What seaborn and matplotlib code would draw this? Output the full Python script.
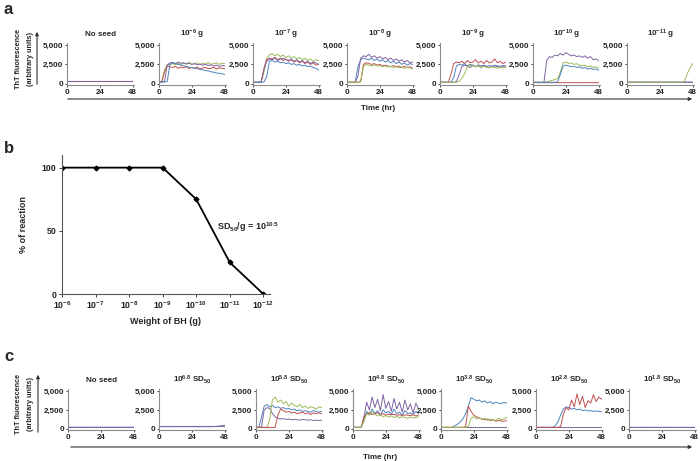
import matplotlib
matplotlib.use("Agg")
import matplotlib.pyplot as plt
from matplotlib.patches import FancyArrowPatch
import pandas as pd
import seaborn as sns

W, H = 700, 461

TIME = list(range(0, 49, 2))
COLORS = {"blue": "#4F81BD", "red": "#C0504D", "green": "#9BBB59", "purple": "#8064A2"}

# ---- panel a: ThT kinetics, BH dilutions ---------------------------------- #
A_TITLES = ["No seed", r"10$^{-6}$ g", r"10$^{-7}$ g", r"10$^{-8}$ g",
            r"10$^{-9}$ g", r"10$^{-10}$ g", r"10$^{-11}$ g"]

a_noseed = {
    "blue": [300, 302, 298, 300, 301, 299, 300, 302, 300, 298, 300, 301, 300, 299, 302, 300, 300, 298, 301, 300, 299, 300, 302, 300, 300],
    "red": [290, 288, 291, 290, 289, 290, 292, 290, 288, 290, 291, 290, 289, 290, 290, 291, 288, 290, 290, 292, 290, 289, 290, 291, 290],
    "purple": [310, 311, 309, 310, 312, 310, 309, 310, 311, 310, 308, 310, 311, 310, 309, 312, 310, 310, 309, 311, 310, 310, 312, 309, 310],
}
a_1e6 = {
    "green": [250, 250, 1800, 2450, 2500, 2600, 2450, 2700, 2500, 2650, 2550, 2800, 2500, 2600, 2700, 2450, 2650, 2550, 2750, 2500, 2600, 2700, 2500, 2650, 2600],
    "red": [250, 250, 1500, 2300, 2200, 2100, 2250, 2000, 2150, 2050, 2200, 1950, 2100, 2000, 2150, 1900, 2050, 2100, 1950, 2000, 2150, 1900, 2050, 2000, 1950],
    "purple": [250, 250, 250, 2400, 2700, 2750, 2600, 2800, 2650, 2700, 2550, 2650, 2500, 2600, 2450, 2550, 2400, 2500, 2350, 2450, 2300, 2400, 2250, 2350, 2300],
    "blue": [250, 250, 250, 300, 2500, 2700, 2600, 2500, 2400, 2300, 2250, 2150, 2100, 2000, 1950, 1850, 1800, 1700, 1650, 1550, 1500, 1400, 1350, 1300, 1200],
}
a_1e7 = {
    "green": [200, 200, 200, 250, 1500, 3300, 3700, 3900, 3600, 3800, 3500, 3700, 3400, 3600, 3300, 3500, 3200, 3400, 3100, 3300, 3000, 3200, 2900, 3100, 3000],
    "red": [200, 200, 200, 250, 2000, 3100, 3300, 3200, 3400, 3100, 3300, 3000, 3200, 2900, 3100, 2800, 3000, 2700, 2900, 2600, 2800, 2500, 2700, 2400, 2500],
    "purple": [200, 200, 200, 250, 1800, 2900, 3200, 3100, 3300, 3000, 3200, 3300, 3100, 3000, 3200, 2900, 3100, 2800, 3000, 2700, 2900, 2600, 2800, 2700, 2500],
    "blue": [200, 200, 200, 200, 250, 900, 2900, 3000, 2800, 2900, 2700, 2800, 2600, 2700, 2500, 2600, 2400, 2500, 2300, 2400, 2200, 2300, 2100, 2000, 1800],
}
a_1e8 = {
    "blue": [200, 200, 200, 200, 2200, 3100, 3300, 3200, 3100, 3300, 3000, 3200, 2900, 3100, 2800, 3000, 2700, 2900, 2600, 2800, 2500, 2700, 2400, 2600, 2500],
    "purple": [200, 200, 200, 200, 1000, 3300, 3600, 3500, 3800, 3400, 3600, 3300, 3500, 3200, 3400, 3100, 3300, 3000, 3200, 2900, 3100, 2800, 3000, 2700, 2800],
    "red": [200, 200, 200, 200, 200, 300, 2500, 2700, 2600, 2500, 2600, 2400, 2500, 2300, 2400, 2300, 2200, 2350, 2200, 2300, 2100, 2250, 2100, 2200, 2000],
    "green": [200, 200, 200, 200, 200, 250, 2200, 2500, 2400, 2300, 2450, 2300, 2350, 2200, 2300, 2150, 2250, 2100, 2200, 2050, 2150, 2000, 2100, 2050, 1900],
}
a_1e9 = {
    "red": [200, 200, 200, 200, 1200, 2600, 2800, 2700, 2900, 2600, 3000, 2700, 2800, 3100, 2700, 2900, 2600, 3000, 2700, 2800, 3200, 2700, 2900, 2600, 2800],
    "blue": [200, 200, 200, 200, 200, 800, 2300, 2500, 2400, 2600, 2300, 2500, 2400, 2200, 2450, 2300, 2400, 2250, 2350, 2200, 2400, 2300, 2250, 2350, 2300],
    "purple": [200, 200, 200, 200, 200, 200, 300, 1200, 2200, 2400, 2300, 2100, 2400, 2200, 2300, 2100, 2350, 2200, 2100, 2300, 2150, 2250, 2100, 2200, 2150],
    "green": [200, 200, 200, 200, 200, 200, 200, 300, 700, 1300, 2200, 2400, 2300, 2200, 2350, 2100, 2250, 2150, 2050, 2200, 2100, 2000, 2150, 2050, 2100],
}
a_1e10 = {
    "red": [150, 150, 152, 150, 149, 150, 151, 150, 150, 152, 150, 149, 150, 150, 151, 150, 150, 149, 150, 152, 150, 150, 151, 150, 150],
    "purple": [200, 200, 200, 200, 200, 3000, 3500, 3400, 3700, 3600, 3900, 3700, 4000, 3800, 3600, 3700, 3500, 3600, 3400, 3600, 3300, 3500, 3100, 3200, 3000],
    "green": [200, 200, 200, 200, 200, 250, 350, 450, 550, 700, 1500, 2700, 2800, 2600, 2700, 2500, 2600, 2400, 2300, 2400, 2200, 2300, 2100, 2200, 2000],
    "blue": [200, 200, 200, 200, 200, 200, 200, 200, 200, 250, 1200, 2300, 2400, 2300, 2200, 2250, 2100, 2200, 2000, 2100, 1900, 2000, 1850, 1900, 1750],
}
a_1e11 = {
    "blue": [200, 201, 199, 200, 200, 202, 200, 199, 200, 201, 200, 200, 199, 200, 202, 200, 200, 201, 199, 200, 200, 201, 200, 199, 200],
    "purple": [220, 221, 220, 219, 220, 220, 222, 220, 219, 220, 221, 220, 220, 219, 220, 221, 220, 220, 222, 220, 220, 219, 220, 221, 220],
    "green": [210, 210, 211, 210, 209, 210, 210, 211, 210, 210, 209, 210, 211, 210, 210, 209, 210, 210, 211, 210, 210, 300, 1300, 2000, 2600],
}
A_PANELS = [a_noseed, a_1e6, a_1e7, a_1e8, a_1e9, a_1e10, a_1e11]

# ---- panel b: endpoint titration ----------------------------------------- #
B_LABELS = [r"10$^{-6}$", r"10$^{-7}$", r"10$^{-8}$", r"10$^{-9}$",
            r"10$^{-10}$", r"10$^{-11}$", r"10$^{-12}$"]
B_PCT = [100, 100, 100, 100, 75, 25, 0]

# ---- panel c: ThT kinetics, SD50 dilutions ------------------------------- #
C_TITLES = ["No seed", r"10$^{6.8}$ SD$_{50}$", r"10$^{5.8}$ SD$_{50}$",
            r"10$^{4.8}$ SD$_{50}$", r"10$^{3.8}$ SD$_{50}$",
            r"10$^{2.8}$ SD$_{50}$", r"10$^{1.8}$ SD$_{50}$"]

c_noseed = {
    "blue": [220, 221, 220, 219, 220, 220, 222, 220, 219, 220, 221, 220, 220, 219, 220, 221, 220, 220, 222, 220, 220, 219, 220, 221, 220],
    "purple": [180, 181, 180, 179, 180, 180, 181, 180, 179, 180, 180, 181, 180, 180, 179, 180, 181, 180, 180, 179, 180, 180, 181, 180, 180],
}
c_68 = {
    "green": [300, 301, 300, 299, 300, 300, 301, 300, 299, 300, 302, 300, 300, 299, 300, 301, 300, 300, 299, 300, 301, 300, 300, 302, 300],
    "blue": [320, 321, 320, 319, 320, 320, 322, 320, 319, 320, 321, 320, 320, 319, 320, 321, 320, 320, 322, 320, 320, 319, 320, 321, 320],
    "purple": [290, 290, 291, 290, 289, 290, 290, 291, 290, 290, 289, 290, 291, 290, 290, 289, 290, 290, 291, 290, 300, 320, 360, 420, 470],
}
c_58 = {
    "blue": [200, 200, 1500, 3000, 3200, 2900, 3100, 2800, 2900, 2700, 2800, 2600, 2700, 2500, 2600, 2400, 2500, 2300, 2400, 2300, 2200, 2400, 2300, 2200, 2300],
    "purple": [200, 200, 200, 2500, 2800, 2700, 2000, 1600, 1400, 1300, 1350, 1250, 1300, 1200, 1250, 1200, 1150, 1250, 1200, 1150, 1200, 1100, 1150, 1100, 1150],
    "green": [200, 200, 200, 200, 200, 1200, 3800, 4200, 3500, 3800, 3300, 3600, 3000, 3400, 3100, 2900, 3200, 2800, 3000, 2700, 2900, 2800, 2600, 2900, 2800],
    "red": [200, 200, 200, 200, 200, 200, 200, 200, 1800, 2600, 2400, 2200, 2300, 2100, 2200, 2000, 2100, 2200, 2000, 2100, 1900, 2100, 2000, 2100, 2000],
}
c_48 = {
    "purple": [200, 200, 200, 200, 1500, 3500, 2500, 4200, 2800, 3900, 2400, 4500, 2700, 3600, 2300, 4000, 2600, 3500, 2200, 3800, 2500, 3300, 2100, 3400, 2600],
    "blue": [200, 200, 200, 200, 1200, 2300, 1900, 2600, 2000, 2400, 1800, 2500, 2100, 2300, 1900, 2600, 2000, 2200, 1800, 2400, 2000, 2100, 1900, 2300, 2000],
    "red": [200, 200, 200, 200, 1600, 2000, 2100, 1900, 2000, 2100, 1900, 2000, 1800, 1950, 1850, 1900, 1800, 1850, 1750, 1850, 1800, 1750, 1850, 1700, 1800],
    "green": [200, 200, 200, 200, 1000, 2000, 1800, 2200, 1900, 1700, 1850, 1600, 1750, 1550, 1700, 1500, 1650, 1450, 1600, 1500, 1400, 1550, 1450, 1500, 1600],
}
c_38 = {
    "purple": [180, 181, 180, 179, 180, 180, 181, 180, 179, 180, 180, 181, 180, 180, 179, 180, 181, 180, 180, 179, 180, 180, 181, 180, 180],
    "blue": [200, 200, 200, 200, 200, 400, 600, 900, 1300, 2000, 3000, 4100, 3900, 3700, 3800, 3500, 3700, 3400, 3600, 3300, 3500, 3400, 3300, 3500, 3400],
    "red": [200, 200, 200, 200, 200, 200, 200, 200, 200, 300, 3000, 2300, 1800, 1600, 1400, 1300, 1200, 1300, 1100, 1200, 1000, 1100, 1050, 1000, 1100],
    "green": [200, 200, 200, 200, 200, 200, 200, 200, 200, 200, 300, 1400, 1600, 1300, 1500, 1200, 1400, 1100, 1300, 1200, 1100, 1400, 1200, 1300, 1500],
}
c_28 = {
    "purple": [180, 181, 180, 179, 180, 180, 181, 180, 179, 180, 180, 181, 180, 180, 179, 180, 181, 180, 180, 179, 180, 180, 181, 180, 180],
    "blue": [200, 200, 200, 200, 200, 200, 200, 400, 900, 1800, 2600, 2900, 2800, 2600, 2700, 2500, 2600, 2400, 2500, 2350, 2400, 2300, 2350, 2300, 2250],
    "red": [200, 200, 200, 200, 200, 200, 200, 200, 200, 300, 1900, 2800, 2500, 3800, 2900, 4600, 3200, 4300, 2800, 3700, 3400, 4500, 3600, 4200, 3900],
}
c_18 = {
    "blue": [200, 201, 199, 200, 200, 202, 200, 199, 200, 201, 200, 200, 199, 200, 202, 200, 200, 201, 199, 200, 200, 201, 200, 199, 200],
    "purple": [180, 181, 180, 179, 180, 180, 181, 180, 179, 180, 180, 181, 180, 180, 179, 180, 181, 180, 180, 179, 180, 180, 181, 180, 180],
}
C_PANELS = [c_noseed, c_68, c_58, c_48, c_38, c_28, c_18]

A_LEFTS = [67, 159, 253, 347, 440, 533, 627]
C_LEFTS = [68, 159, 256, 353, 441, 536, 629]

sns.set_style("ticks")
plt.rcParams["font.family"] = ["Liberation Sans", "DejaVu Sans"]
plt.rcParams["font.weight"] = "bold"
plt.rcParams["mathtext.fontset"] = "custom"
plt.rcParams["mathtext.rm"] = "Liberation Sans:bold"
plt.rcParams["mathtext.bf"] = "Liberation Sans:bold"
plt.rcParams["mathtext.default"] = "bf"


def box(x0, y0, x1, y1):
    return [x0 / W, 1 - y1 / H, (x1 - x0) / W, (y1 - y0) / H]


def fx(x):
    return x / W


def fy(y):
    return 1 - y / H


def arrow(fig, x0, y0, x1, y1):
    fig.add_artist(FancyArrowPatch((fx(x0), fy(y0)), (fx(x1), fy(y1)),
                                   transform=fig.transFigure, arrowstyle="-|>",
                                   mutation_scale=5, lw=0.8, color="#333333"))


def kinetics_row(fig, panels, titles, lefts, top, bottom):
    for traces, title, left in zip(panels, titles, lefts):
        ax = fig.add_axes(box(left, top, left + 67, bottom))
        df = pd.DataFrame([{"time": t, "value": v, "trace": name}
                           for name, vals in traces.items()
                           for t, v in zip(TIME, vals)])
        sns.lineplot(data=df, x="time", y="value", hue="trace", palette=COLORS,
                     ax=ax, legend=False, linewidth=0.7)
        ax.set_xlim(0, 49)
        ax.set_ylim(-150, 5250)
        ax.set_xticks([0, 24, 48])
        ax.set_yticks([0, 2500, 5000])
        ax.set_yticklabels(["0", "2,500", "5,000"])
        ax.set_xlabel("")
        ax.set_ylabel("")
        ax.set_title(title, fontsize=5.8, fontweight="bold", pad=5)
        ax.tick_params(labelsize=5.8, length=1.5, width=0.6, pad=1.5, colors="#222222")
        for s in ("top", "right"):
            ax.spines[s].set_visible(False)
        for s in ("left", "bottom"):
            ax.spines[s].set_color("#8c8c8c")
            ax.spines[s].set_linewidth(0.8)


fig = plt.figure(figsize=(W / 100, H / 100), dpi=100)

# panel a
fig.text(fx(4), fy(9), "a", fontsize=12, fontweight="bold", va="center")
kinetics_row(fig, A_PANELS, A_TITLES, A_LEFTS, 43, 85)
fig.text(fx(19), fy(59), "ThT fluorescence", rotation=90, fontsize=5.2,
         ha="center", va="center", fontweight="bold")
fig.text(fx(30), fy(59), "(arbitrary units)", rotation=90, fontsize=5.2,
         ha="center", va="center", fontweight="bold")
arrow(fig, 37, 87, 37, 29)
arrow(fig, 65, 99, 695, 99)
fig.text(fx(378), fy(108), "Time (hr)", fontsize=5.8, ha="center", va="center",
         fontweight="bold")

# panel b
fig.text(fx(4), fy(148), "b", fontsize=12, fontweight="bold", va="center")
axb = fig.add_axes(box(62, 155, 270, 294))
sns.lineplot(x=list(range(len(B_PCT))), y=B_PCT, ax=axb, color="black",
             marker="D", markersize=2.6, linewidth=1.3, markeredgecolor="black")
axb.set_xlim(0, 6.2)
axb.set_ylim(0, 110)
axb.set_xticks(range(len(B_LABELS)))
axb.set_xticklabels(B_LABELS)
axb.set_yticks([0, 50, 100])
axb.tick_params(labelsize=6.3, length=2, width=0.6, pad=2, colors="#222222")
axb.set_xlabel("Weight of BH (g)", fontsize=6.5, fontweight="bold", labelpad=4)
axb.set_ylabel("% of reaction", fontsize=6.5, fontweight="bold", labelpad=10)
for s in ("top", "right"):
    axb.spines[s].set_visible(False)
for s in ("left", "bottom"):
    axb.spines[s].set_color("#555555")
    axb.spines[s].set_linewidth(0.8)
axb.text(4.63, 53, r"SD$_{50}$/g = 10$^{10.5}$", fontsize=6.5, ha="left",
         va="center", fontweight="bold")

# panel c
fig.text(fx(4), fy(356), "c", fontsize=12, fontweight="bold", va="center")
kinetics_row(fig, C_PANELS, C_TITLES, C_LEFTS, 389, 430)
fig.text(fx(19), fy(404), "ThT fluorescence", rotation=90, fontsize=5.2,
         ha="center", va="center", fontweight="bold")
fig.text(fx(31), fy(404), "(arbitrary units)", rotation=90, fontsize=5.2,
         ha="center", va="center", fontweight="bold")
arrow(fig, 38, 435, 38, 372)
arrow(fig, 68, 447, 695, 447)
fig.text(fx(380), fy(457), "Time (hr)", fontsize=5.8, ha="center", va="center",
         fontweight="bold")

fig.savefig("out.png", dpi=100)
